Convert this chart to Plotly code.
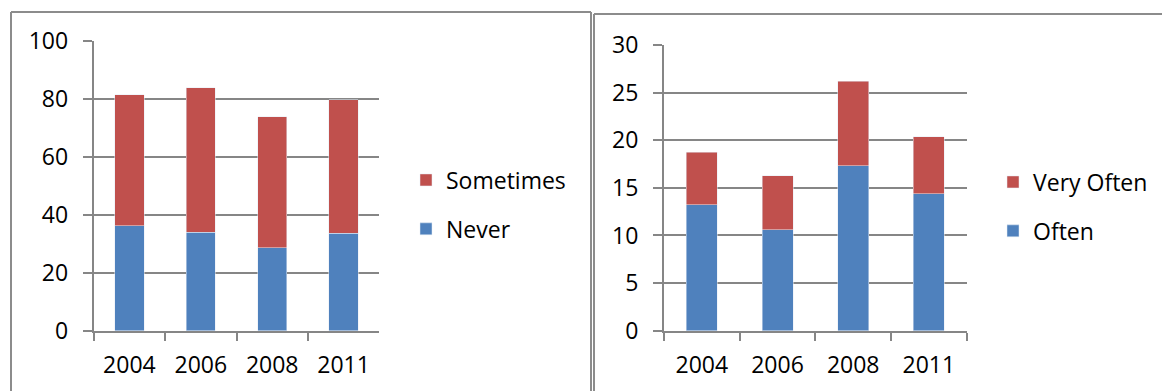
import plotly.graph_objects as go

# Survey responses by year
years = ["2004", "2006", "2008", "2011"]
never = [36.2, 34.0, 28.6, 33.7]
sometimes = [45.2, 49.8, 45.2, 46.0]
often = [13.2, 10.6, 17.3, 14.4]
very_often = [5.55, 5.65, 8.9, 5.95]

BLUE = "#4F81BD"
RED = "#C0504D"
GRID = "#868686"
FONT = dict(family="Open Sans", size=23, color="black")

W, H = 1162, 391


def px_x(x):
    return x / W


def px_y(y):
    return 1 - y / H


fig = go.Figure()

fig.add_bar(x=years, y=never, name="Never", marker_color=BLUE,
            xaxis="x", yaxis="y", legend="legend", legendgroup="a",
            legendrank=2)
fig.add_bar(x=years, y=sometimes, name="Sometimes", marker_color=RED,
            xaxis="x", yaxis="y", legend="legend", legendgroup="b",
            legendrank=1)
fig.add_bar(x=years, y=often, name="Often", marker_color=BLUE,
            xaxis="x2", yaxis="y2", legend="legend2", legendgroup="c",
            legendrank=2)
fig.add_bar(x=years, y=very_often, name="Very Often", marker_color=RED,
            xaxis="x2", yaxis="y2", legend="legend2", legendgroup="d",
            legendrank=1)

xcommon = dict(type="category", showline=True, linecolor=GRID, linewidth=2,
               ticks="outside", tickson="boundaries", ticklen=8, tickwidth=2,
               tickcolor=GRID, showgrid=False, tickfont=FONT, zeroline=False,
               ticklabelstandoff=13)
ycommon = dict(showline=True, linecolor=GRID, linewidth=2, ticks="outside",
               ticklen=9, tickwidth=2, tickcolor=GRID, showgrid=True,
               gridcolor=GRID, gridwidth=2, tickfont=FONT, zeroline=False,
               ticklabelstandoff=10)

ybot = px_y(330.7)
fig.update_layout(
    width=W, height=H,
    margin=dict(l=0, r=0, t=0, b=0, autoexpand=False),
    paper_bgcolor="white", plot_bgcolor="white",
    barmode="stack", bargap=0.59,
    font=FONT,
    xaxis=dict(domain=[px_x(93.7), px_x(379.3)], anchor="y", **xcommon),
    yaxis=dict(domain=[ybot, px_y(41)], range=[0, 100], dtick=20,
               anchor="x", **ycommon),
    xaxis2=dict(domain=[px_x(664), px_x(966.7)], anchor="y2", **xcommon),
    yaxis2=dict(domain=[ybot, px_y(45)], range=[0, 30], dtick=5,
                anchor="x2", **ycommon),
    legend=dict(x=px_x(406), y=px_y(158.5), xanchor="left", yanchor="top",
                traceorder="grouped", tracegroupgap=16,
                font=FONT, bgcolor="rgba(0,0,0,0)"),
    legend2=dict(x=px_x(993), y=px_y(160.5), xanchor="left", yanchor="top",
                 traceorder="grouped", tracegroupgap=16,
                 font=FONT, bgcolor="rgba(0,0,0,0)"),
)

# Panel frames
BORDER = dict(color="#8C8C8C", width=2)
frames = [
    (11, 12, 11, 400), (11, 12, 591, 12), (591, 12, 591, 400),
    (594, 14, 594, 400), (594, 14, 1170, 14),
]
for x0, y0, x1, y1 in frames:
    fig.add_shape(type="line", xref="paper", yref="paper",
                  x0=px_x(x0), y0=px_y(y0), x1=px_x(x1), y1=px_y(y1),
                  line=BORDER, layer="below")

fig.write_html("out.html")
